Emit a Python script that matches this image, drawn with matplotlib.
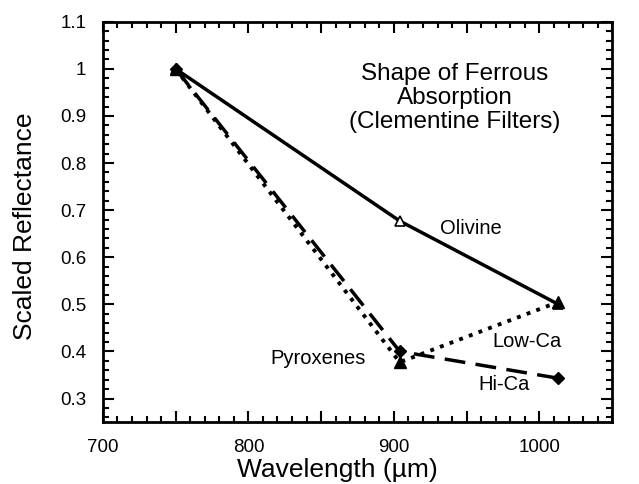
import matplotlib
matplotlib.use("Agg")
import matplotlib.pyplot as plt
from matplotlib.ticker import MultipleLocator, FixedLocator

plt.rcParams['font.family'] = ['Liberation Sans', 'DejaVu Sans']

wavelength = [750, 904, 1013]
olivine = [1.0, 0.677, 0.500]
low_ca = [1.0, 0.377, 0.505]
hi_ca = [1.0, 0.400, 0.343]

x_major = [700, 750, 800, 850, 900, 950, 1000, 1050]
x_labels = ['700', '', '800', '', '900', '', '1000', '']
y_major = [0.3, 0.4, 0.5, 0.6, 0.7, 0.8, 0.9, 1.0, 1.1]
y_labels = ['0.3', '0.4', '0.5', '0.6', '0.7', '0.8', '0.9', '1', '1.1']

fig = plt.figure(figsize=(6.39, 4.84), dpi=100)
ax = fig.add_axes([0.161, 0.128, 0.797, 0.827])

ax.plot(wavelength, olivine, '-', color='black', lw=2.5, marker='^', ms=7,
        mfc='white', mec='black', mew=1.2, zorder=3)
ax.plot(wavelength, low_ca, ':', color='black', lw=2.8, marker='^', ms=8,
        mfc='black', mec='black', zorder=4)
ax.plot(wavelength, hi_ca, '--', color='black', lw=2.5, dashes=(6, 3), marker='D', ms=6,
        mfc='black', mec='black', zorder=5)

ax.set_xlim(700, 1050)
ax.set_ylim(0.25, 1.1)
ax.xaxis.set_major_locator(FixedLocator(x_major))
ax.set_xticklabels(x_labels)
ax.xaxis.set_minor_locator(MultipleLocator(10))
ax.set_yticks(y_major)
ax.set_yticklabels(y_labels)
ax.yaxis.set_minor_locator(MultipleLocator(0.02))

ax.tick_params(which='both', direction='in', top=True, right=True, width=1.5)
ax.tick_params(which='major', length=8, labelsize=13.5, pad=12)
ax.tick_params(which='minor', length=4)
for s in ax.spines.values():
    s.set_linewidth(2)

ax.set_xlabel('Wavelength (µm)', fontsize=19)
ax.xaxis.set_label_coords(0.46, -0.09)
ax.set_ylabel('Scaled Reflectance', fontsize=19)
ax.yaxis.set_label_coords(-0.13, 0.49)

ax.text(942, 0.938, 'Shape of Ferrous\nAbsorption\n(Clementine Filters)', ha='center', va='center',
        fontsize=17.5, linespacing=1.1)
ax.text(931.7, 0.662, 'Olivine', fontsize=14.5, va='center', ha='left')
ax.text(967.5, 0.42, 'Low-Ca', fontsize=14.5, va='center', ha='left')
ax.text(957.9, 0.329, 'Hi-Ca', fontsize=14.5, va='center', ha='left')
ax.text(814.8, 0.386, 'Pyroxenes', fontsize=14.5, va='center', ha='left')

fig.savefig('out.png', dpi=100)
